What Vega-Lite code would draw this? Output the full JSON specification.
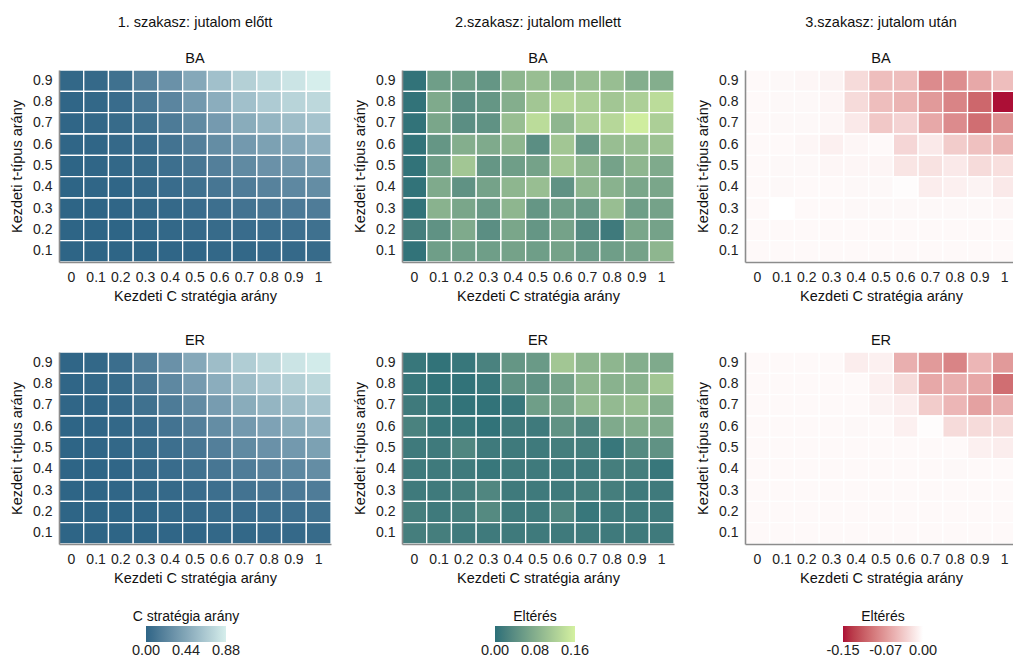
{
  "$schema": "https://vega.github.io/schema/vega-lite/v6.json",
  "background": "white",
  "padding": {"left": 9, "top": 15, "right": 0, "bottom": 0},
  "config": {
    "view": {"stroke": null},
    "font": "Liberation Sans",
    "axis": {"domain": true, "domainColor": "#8c8c8c", "domainWidth": 1.6, "ticks": false, "grid": false, "labelFont": "Liberation Sans", "labelFontSize": 14, "labelColor": "#222222", "titleFont": "Liberation Sans", "titleFontSize": 14.5, "titleFontWeight": "normal", "titleColor": "#111111"},
    "axisX": {"labelAngle": 0, "labelPadding": 8, "titlePadding": 5},
    "axisY": {"labelPadding": 7, "titlePadding": 8},
    "title": {"font": "Liberation Sans", "fontSize": 14.5, "fontWeight": "normal", "color": "#111111", "subtitleFont": "Liberation Sans", "subtitleFontSize": 14.5, "subtitleColor": "#111111", "anchor": "middle", "subtitlePadding": 21, "offset": 3},
    "legend": {"titleFont": "Liberation Sans", "titleFontSize": 14, "titleFontWeight": "normal", "titleColor": "#111111", "labelFont": "Liberation Sans", "labelFontSize": 14.5, "labelColor": "#222222", "gradientLength": 80, "gradientThickness": 16, "gradientStrokeWidth": 0, "titleAnchor": "middle", "labelAlign": "center", "labelOverlap": false, "direction": "horizontal", "orient": "none", "titlePadding": 2, "labelOffset": 3}
  },
  "resolve": {"scale": {"color": "independent"}, "legend": {"color": "independent"}},
  "vconcat": [
    {
      "spacing": 20,
      "resolve": {"scale": {"color": "independent"}, "legend": {"color": "independent"}},
      "hconcat": [
        {
          "width": 272, "height": 192,
          "title": {"text": "1. szakasz: jutalom előtt", "subtitle": "BA"},
          "data": {"name": "p1ba"},
          "mark": {"type": "rect", "stroke": "white", "strokeWidth": 1.3},
          "encoding": {
            "x": {"field": "x", "type": "ordinal", "title": "Kezdeti C stratégia arány", "scale": {"domain": ["0","0.1","0.2","0.3","0.4","0.5","0.6","0.7","0.8","0.9","1"], "paddingInner": 0, "paddingOuter": 0}},
            "y": {"field": "y", "type": "ordinal", "title": "Kezdeti t-típus arány", "scale": {"domain": ["0.9","0.8","0.7","0.6","0.5","0.4","0.3","0.2","0.1"], "paddingInner": 0, "paddingOuter": 0}},
            "color": {"field": "v", "type": "quantitative", "scale": {"domain": [0, 0.88], "range": ["#2e6586", "#d6eeec"], "interpolate": "lab"}, "legend": null}
          }
        },
        {
          "width": 272, "height": 192,
          "title": {"text": "2.szakasz: jutalom mellett", "subtitle": "BA"},
          "data": {"name": "p2ba"},
          "mark": {"type": "rect", "stroke": "white", "strokeWidth": 1.3},
          "encoding": {
            "x": {"field": "x", "type": "ordinal", "title": "Kezdeti C stratégia arány", "scale": {"domain": ["0","0.1","0.2","0.3","0.4","0.5","0.6","0.7","0.8","0.9","1"], "paddingInner": 0, "paddingOuter": 0}},
            "y": {"field": "y", "type": "ordinal", "title": "Kezdeti t-típus arány", "scale": {"domain": ["0.9","0.8","0.7","0.6","0.5","0.4","0.3","0.2","0.1"], "paddingInner": 0, "paddingOuter": 0}},
            "color": {"field": "v", "type": "quantitative", "scale": {"domain": [0, 0.16], "range": ["#2b6f78", "#d4f1a0"], "interpolate": "lab"}, "legend": null}
          }
        },
        {
          "width": 272, "height": 192,
          "title": {"text": "3.szakasz: jutalom után", "subtitle": "BA"},
          "data": {"name": "p3ba"},
          "mark": {"type": "rect", "stroke": "white", "strokeWidth": 1.3},
          "encoding": {
            "x": {"field": "x", "type": "ordinal", "title": "Kezdeti C stratégia arány", "scale": {"domain": ["0","0.1","0.2","0.3","0.4","0.5","0.6","0.7","0.8","0.9","1"], "paddingInner": 0, "paddingOuter": 0}},
            "y": {"field": "y", "type": "ordinal", "title": "Kezdeti t-típus arány", "scale": {"domain": ["0.9","0.8","0.7","0.6","0.5","0.4","0.3","0.2","0.1"], "paddingInner": 0, "paddingOuter": 0}},
            "color": {"field": "v", "type": "quantitative", "scale": {"domain": [-0.15, 0], "range": ["#ac0f36", "#ffffff"], "interpolate": "lab"}, "legend": null}
          }
        }
      ]
    },
    {
      "spacing": 20,
      "resolve": {"scale": {"color": "independent"}, "legend": {"color": "independent"}},
      "hconcat": [
        {
          "width": 272, "height": 192,
          "title": {"text": "ER"},
          "data": {"name": "p1er"},
          "mark": {"type": "rect", "stroke": "white", "strokeWidth": 1.3},
          "encoding": {
            "x": {"field": "x", "type": "ordinal", "title": "Kezdeti C stratégia arány", "scale": {"domain": ["0","0.1","0.2","0.3","0.4","0.5","0.6","0.7","0.8","0.9","1"], "paddingInner": 0, "paddingOuter": 0}},
            "y": {"field": "y", "type": "ordinal", "title": "Kezdeti t-típus arány", "scale": {"domain": ["0.9","0.8","0.7","0.6","0.5","0.4","0.3","0.2","0.1"], "paddingInner": 0, "paddingOuter": 0}},
            "color": {"field": "v", "type": "quantitative", "scale": {"domain": [0, 0.88], "range": ["#2e6586", "#d6eeec"], "interpolate": "lab"}, "legend": {"title": "C stratégia arány", "values": [0, 0.44, 0.88], "format": ".2f", "legendX": 74, "legendY": 258, "encode": {"labels": {"update": {"align": {"value": "center"}}}}}}
          }
        },
        {
          "width": 272, "height": 192,
          "title": {"text": "ER"},
          "data": {"name": "p2er"},
          "mark": {"type": "rect", "stroke": "white", "strokeWidth": 1.3},
          "encoding": {
            "x": {"field": "x", "type": "ordinal", "title": "Kezdeti C stratégia arány", "scale": {"domain": ["0","0.1","0.2","0.3","0.4","0.5","0.6","0.7","0.8","0.9","1"], "paddingInner": 0, "paddingOuter": 0}},
            "y": {"field": "y", "type": "ordinal", "title": "Kezdeti t-típus arány", "scale": {"domain": ["0.9","0.8","0.7","0.6","0.5","0.4","0.3","0.2","0.1"], "paddingInner": 0, "paddingOuter": 0}},
            "color": {"field": "v", "type": "quantitative", "scale": {"domain": [0, 0.16], "range": ["#2b6f78", "#d4f1a0"], "interpolate": "lab"}, "legend": {"title": "Eltérés", "values": [0, 0.08, 0.16], "format": ".2f", "legendX": 93, "legendY": 258, "encode": {"labels": {"update": {"align": {"value": "center"}}}}}}
          }
        },
        {
          "width": 272, "height": 192,
          "title": {"text": "ER"},
          "data": {"name": "p3er"},
          "mark": {"type": "rect", "stroke": "white", "strokeWidth": 1.3},
          "encoding": {
            "x": {"field": "x", "type": "ordinal", "title": "Kezdeti C stratégia arány", "scale": {"domain": ["0","0.1","0.2","0.3","0.4","0.5","0.6","0.7","0.8","0.9","1"], "paddingInner": 0, "paddingOuter": 0}},
            "y": {"field": "y", "type": "ordinal", "title": "Kezdeti t-típus arány", "scale": {"domain": ["0.9","0.8","0.7","0.6","0.5","0.4","0.3","0.2","0.1"], "paddingInner": 0, "paddingOuter": 0}},
            "color": {"field": "v", "type": "quantitative", "scale": {"domain": [-0.15, 0], "range": ["#ac0f36", "#ffffff"], "interpolate": "lab"}, "legend": {"title": "Eltérés", "values": [-0.15, -0.07, 0], "labelExpr": "replace(format(datum.value, '.2f'), '\u2212', '-')", "legendX": 98, "legendY": 258, "encode": {"labels": {"update": {"align": {"value": "center"}}}}}}
          }
        }
      ]
    }
  ],
  "spacing": 29,
  "datasets": {
    "p1ba": [
      {"x":"0","y":"0.9","v":0.02},{"x":"0.1","y":"0.9","v":0.03},{"x":"0.2","y":"0.9","v":0.08},{"x":"0.3","y":"0.9","v":0.2},{"x":"0.4","y":"0.9","v":0.3},{"x":"0.5","y":"0.9","v":0.45},{"x":"0.6","y":"0.9","v":0.6},{"x":"0.7","y":"0.9","v":0.7},{"x":"0.8","y":"0.9","v":0.76},{"x":"0.9","y":"0.9","v":0.82},{"x":"1","y":"0.9","v":0.88},
      {"x":"0","y":"0.8","v":0.01},{"x":"0.1","y":"0.8","v":0.02},{"x":"0.2","y":"0.8","v":0.05},{"x":"0.3","y":"0.8","v":0.13},{"x":"0.4","y":"0.8","v":0.22},{"x":"0.5","y":"0.8","v":0.35},{"x":"0.6","y":"0.8","v":0.48},{"x":"0.7","y":"0.8","v":0.6},{"x":"0.8","y":"0.8","v":0.67},{"x":"0.9","y":"0.8","v":0.72},{"x":"1","y":"0.8","v":0.75},
      {"x":"0","y":"0.7","v":0.01},{"x":"0.1","y":"0.7","v":0.02},{"x":"0.2","y":"0.7","v":0.04},{"x":"0.3","y":"0.7","v":0.08},{"x":"0.4","y":"0.7","v":0.15},{"x":"0.5","y":"0.7","v":0.25},{"x":"0.6","y":"0.7","v":0.36},{"x":"0.7","y":"0.7","v":0.47},{"x":"0.8","y":"0.7","v":0.53},{"x":"0.9","y":"0.7","v":0.58},{"x":"1","y":"0.7","v":0.62},
      {"x":"0","y":"0.6","v":0.01},{"x":"0.1","y":"0.6","v":0.01},{"x":"0.2","y":"0.6","v":0.03},{"x":"0.3","y":"0.6","v":0.05},{"x":"0.4","y":"0.6","v":0.1},{"x":"0.5","y":"0.6","v":0.18},{"x":"0.6","y":"0.6","v":0.27},{"x":"0.7","y":"0.6","v":0.35},{"x":"0.8","y":"0.6","v":0.4},{"x":"0.9","y":"0.6","v":0.45},{"x":"1","y":"0.6","v":0.5},
      {"x":"0","y":"0.5","v":0.0},{"x":"0.1","y":"0.5","v":0.01},{"x":"0.2","y":"0.5","v":0.02},{"x":"0.3","y":"0.5","v":0.04},{"x":"0.4","y":"0.5","v":0.07},{"x":"0.5","y":"0.5","v":0.12},{"x":"0.6","y":"0.5","v":0.18},{"x":"0.7","y":"0.5","v":0.25},{"x":"0.8","y":"0.5","v":0.3},{"x":"0.9","y":"0.5","v":0.34},{"x":"1","y":"0.5","v":0.38},
      {"x":"0","y":"0.4","v":0.0},{"x":"0.1","y":"0.4","v":0.01},{"x":"0.2","y":"0.4","v":0.01},{"x":"0.3","y":"0.4","v":0.03},{"x":"0.4","y":"0.4","v":0.05},{"x":"0.5","y":"0.4","v":0.08},{"x":"0.6","y":"0.4","v":0.12},{"x":"0.7","y":"0.4","v":0.16},{"x":"0.8","y":"0.4","v":0.2},{"x":"0.9","y":"0.4","v":0.24},{"x":"1","y":"0.4","v":0.27},
      {"x":"0","y":"0.3","v":0.0},{"x":"0.1","y":"0.3","v":0.0},{"x":"0.2","y":"0.3","v":0.01},{"x":"0.3","y":"0.3","v":0.02},{"x":"0.4","y":"0.3","v":0.03},{"x":"0.5","y":"0.3","v":0.05},{"x":"0.6","y":"0.3","v":0.07},{"x":"0.7","y":"0.3","v":0.1},{"x":"0.8","y":"0.3","v":0.12},{"x":"0.9","y":"0.3","v":0.14},{"x":"1","y":"0.3","v":0.16},
      {"x":"0","y":"0.2","v":0.0},{"x":"0.1","y":"0.2","v":0.0},{"x":"0.2","y":"0.2","v":0.0},{"x":"0.3","y":"0.2","v":0.01},{"x":"0.4","y":"0.2","v":0.02},{"x":"0.5","y":"0.2","v":0.03},{"x":"0.6","y":"0.2","v":0.04},{"x":"0.7","y":"0.2","v":0.05},{"x":"0.8","y":"0.2","v":0.06},{"x":"0.9","y":"0.2","v":0.07},{"x":"1","y":"0.2","v":0.08},
      {"x":"0","y":"0.1","v":0.0},{"x":"0.1","y":"0.1","v":0.0},{"x":"0.2","y":"0.1","v":0.0},{"x":"0.3","y":"0.1","v":0.0},{"x":"0.4","y":"0.1","v":0.01},{"x":"0.5","y":"0.1","v":0.01},{"x":"0.6","y":"0.1","v":0.02},{"x":"0.7","y":"0.1","v":0.02},{"x":"0.8","y":"0.1","v":0.03},{"x":"0.9","y":"0.1","v":0.03},{"x":"1","y":"0.1","v":0.04}
    ],
    "p1er": [
      {"x":"0","y":"0.9","v":0.01},{"x":"0.1","y":"0.9","v":0.02},{"x":"0.2","y":"0.9","v":0.06},{"x":"0.3","y":"0.9","v":0.17},{"x":"0.4","y":"0.9","v":0.3},{"x":"0.5","y":"0.9","v":0.45},{"x":"0.6","y":"0.9","v":0.58},{"x":"0.7","y":"0.9","v":0.68},{"x":"0.8","y":"0.9","v":0.75},{"x":"0.9","y":"0.9","v":0.82},{"x":"1","y":"0.9","v":0.86},
      {"x":"0","y":"0.8","v":0.01},{"x":"0.1","y":"0.8","v":0.02},{"x":"0.2","y":"0.8","v":0.04},{"x":"0.3","y":"0.8","v":0.12},{"x":"0.4","y":"0.8","v":0.24},{"x":"0.5","y":"0.8","v":0.36},{"x":"0.6","y":"0.8","v":0.48},{"x":"0.7","y":"0.8","v":0.58},{"x":"0.8","y":"0.8","v":0.65},{"x":"0.9","y":"0.8","v":0.7},{"x":"1","y":"0.8","v":0.74},
      {"x":"0","y":"0.7","v":0.01},{"x":"0.1","y":"0.7","v":0.01},{"x":"0.2","y":"0.7","v":0.03},{"x":"0.3","y":"0.7","v":0.08},{"x":"0.4","y":"0.7","v":0.15},{"x":"0.5","y":"0.7","v":0.26},{"x":"0.6","y":"0.7","v":0.37},{"x":"0.7","y":"0.7","v":0.47},{"x":"0.8","y":"0.7","v":0.53},{"x":"0.9","y":"0.7","v":0.58},{"x":"1","y":"0.7","v":0.62},
      {"x":"0","y":"0.6","v":0.0},{"x":"0.1","y":"0.6","v":0.01},{"x":"0.2","y":"0.6","v":0.02},{"x":"0.3","y":"0.6","v":0.05},{"x":"0.4","y":"0.6","v":0.1},{"x":"0.5","y":"0.6","v":0.18},{"x":"0.6","y":"0.6","v":0.27},{"x":"0.7","y":"0.6","v":0.35},{"x":"0.8","y":"0.6","v":0.41},{"x":"0.9","y":"0.6","v":0.47},{"x":"1","y":"0.6","v":0.52},
      {"x":"0","y":"0.5","v":0.0},{"x":"0.1","y":"0.5","v":0.01},{"x":"0.2","y":"0.5","v":0.02},{"x":"0.3","y":"0.5","v":0.04},{"x":"0.4","y":"0.5","v":0.07},{"x":"0.5","y":"0.5","v":0.12},{"x":"0.6","y":"0.5","v":0.18},{"x":"0.7","y":"0.5","v":0.25},{"x":"0.8","y":"0.5","v":0.3},{"x":"0.9","y":"0.5","v":0.35},{"x":"1","y":"0.5","v":0.4},
      {"x":"0","y":"0.4","v":0.0},{"x":"0.1","y":"0.4","v":0.0},{"x":"0.2","y":"0.4","v":0.01},{"x":"0.3","y":"0.4","v":0.03},{"x":"0.4","y":"0.4","v":0.05},{"x":"0.5","y":"0.4","v":0.08},{"x":"0.6","y":"0.4","v":0.12},{"x":"0.7","y":"0.4","v":0.16},{"x":"0.8","y":"0.4","v":0.2},{"x":"0.9","y":"0.4","v":0.23},{"x":"1","y":"0.4","v":0.27},
      {"x":"0","y":"0.3","v":0.0},{"x":"0.1","y":"0.3","v":0.0},{"x":"0.2","y":"0.3","v":0.01},{"x":"0.3","y":"0.3","v":0.02},{"x":"0.4","y":"0.3","v":0.03},{"x":"0.5","y":"0.3","v":0.05},{"x":"0.6","y":"0.3","v":0.07},{"x":"0.7","y":"0.3","v":0.1},{"x":"0.8","y":"0.3","v":0.12},{"x":"0.9","y":"0.3","v":0.14},{"x":"1","y":"0.3","v":0.16},
      {"x":"0","y":"0.2","v":0.0},{"x":"0.1","y":"0.2","v":0.0},{"x":"0.2","y":"0.2","v":0.0},{"x":"0.3","y":"0.2","v":0.01},{"x":"0.4","y":"0.2","v":0.02},{"x":"0.5","y":"0.2","v":0.03},{"x":"0.6","y":"0.2","v":0.04},{"x":"0.7","y":"0.2","v":0.05},{"x":"0.8","y":"0.2","v":0.06},{"x":"0.9","y":"0.2","v":0.07},{"x":"1","y":"0.2","v":0.08},
      {"x":"0","y":"0.1","v":0.0},{"x":"0.1","y":"0.1","v":0.0},{"x":"0.2","y":"0.1","v":0.0},{"x":"0.3","y":"0.1","v":0.0},{"x":"0.4","y":"0.1","v":0.01},{"x":"0.5","y":"0.1","v":0.01},{"x":"0.6","y":"0.1","v":0.02},{"x":"0.7","y":"0.1","v":0.02},{"x":"0.8","y":"0.1","v":0.03},{"x":"0.9","y":"0.1","v":0.03},{"x":"1","y":"0.1","v":0.04}
    ],
    "p2ba": [
      {"x":"0","y":"0.9","v":0.005},{"x":"0.1","y":"0.9","v":0.06},{"x":"0.2","y":"0.9","v":0.06},{"x":"0.3","y":"0.9","v":0.05},{"x":"0.4","y":"0.9","v":0.09},{"x":"0.5","y":"0.9","v":0.1},{"x":"0.6","y":"0.9","v":0.09},{"x":"0.7","y":"0.9","v":0.1},{"x":"0.8","y":"0.9","v":0.1},{"x":"0.9","y":"0.9","v":0.08},{"x":"1","y":"0.9","v":0.08},
      {"x":"0","y":"0.8","v":0.005},{"x":"0.1","y":"0.8","v":0.075},{"x":"0.2","y":"0.8","v":0.04},{"x":"0.3","y":"0.8","v":0.05},{"x":"0.4","y":"0.8","v":0.08},{"x":"0.5","y":"0.8","v":0.11},{"x":"0.6","y":"0.8","v":0.13},{"x":"0.7","y":"0.8","v":0.12},{"x":"0.8","y":"0.8","v":0.11},{"x":"0.9","y":"0.8","v":0.12},{"x":"1","y":"0.8","v":0.135},
      {"x":"0","y":"0.7","v":0.005},{"x":"0.1","y":"0.7","v":0.07},{"x":"0.2","y":"0.7","v":0.04},{"x":"0.3","y":"0.7","v":0.045},{"x":"0.4","y":"0.7","v":0.1},{"x":"0.5","y":"0.7","v":0.135},{"x":"0.6","y":"0.7","v":0.09},{"x":"0.7","y":"0.7","v":0.12},{"x":"0.8","y":"0.7","v":0.13},{"x":"0.9","y":"0.7","v":0.155},{"x":"1","y":"0.7","v":0.12},
      {"x":"0","y":"0.6","v":0.005},{"x":"0.1","y":"0.6","v":0.05},{"x":"0.2","y":"0.6","v":0.08},{"x":"0.3","y":"0.6","v":0.075},{"x":"0.4","y":"0.6","v":0.09},{"x":"0.5","y":"0.6","v":0.04},{"x":"0.6","y":"0.6","v":0.11},{"x":"0.7","y":"0.6","v":0.055},{"x":"0.8","y":"0.6","v":0.1},{"x":"0.9","y":"0.6","v":0.1},{"x":"1","y":"0.6","v":0.105},
      {"x":"0","y":"0.5","v":0.005},{"x":"0.1","y":"0.5","v":0.06},{"x":"0.2","y":"0.5","v":0.11},{"x":"0.3","y":"0.5","v":0.05},{"x":"0.4","y":"0.5","v":0.06},{"x":"0.5","y":"0.5","v":0.065},{"x":"0.6","y":"0.5","v":0.11},{"x":"0.7","y":"0.5","v":0.09},{"x":"0.8","y":"0.5","v":0.065},{"x":"0.9","y":"0.5","v":0.09},{"x":"1","y":"0.5","v":0.075},
      {"x":"0","y":"0.4","v":0.005},{"x":"0.1","y":"0.4","v":0.075},{"x":"0.2","y":"0.4","v":0.045},{"x":"0.3","y":"0.4","v":0.065},{"x":"0.4","y":"0.4","v":0.09},{"x":"0.5","y":"0.4","v":0.1},{"x":"0.6","y":"0.4","v":0.045},{"x":"0.7","y":"0.4","v":0.09},{"x":"0.8","y":"0.4","v":0.085},{"x":"0.9","y":"0.4","v":0.07},{"x":"1","y":"0.4","v":0.07},
      {"x":"0","y":"0.3","v":0.005},{"x":"0.1","y":"0.3","v":0.085},{"x":"0.2","y":"0.3","v":0.07},{"x":"0.3","y":"0.3","v":0.055},{"x":"0.4","y":"0.3","v":0.09},{"x":"0.5","y":"0.3","v":0.05},{"x":"0.6","y":"0.3","v":0.06},{"x":"0.7","y":"0.3","v":0.055},{"x":"0.8","y":"0.3","v":0.1},{"x":"0.9","y":"0.3","v":0.06},{"x":"1","y":"0.3","v":0.065},
      {"x":"0","y":"0.2","v":0.02},{"x":"0.1","y":"0.2","v":0.045},{"x":"0.2","y":"0.2","v":0.075},{"x":"0.3","y":"0.2","v":0.04},{"x":"0.4","y":"0.2","v":0.07},{"x":"0.5","y":"0.2","v":0.05},{"x":"0.6","y":"0.2","v":0.065},{"x":"0.7","y":"0.2","v":0.035},{"x":"0.8","y":"0.2","v":0.015},{"x":"0.9","y":"0.2","v":0.07},{"x":"1","y":"0.2","v":0.065},
      {"x":"0","y":"0.1","v":0.005},{"x":"0.1","y":"0.1","v":0.06},{"x":"0.2","y":"0.1","v":0.06},{"x":"0.3","y":"0.1","v":0.06},{"x":"0.4","y":"0.1","v":0.065},{"x":"0.5","y":"0.1","v":0.06},{"x":"0.6","y":"0.1","v":0.065},{"x":"0.7","y":"0.1","v":0.055},{"x":"0.8","y":"0.1","v":0.06},{"x":"0.9","y":"0.1","v":0.065},{"x":"1","y":"0.1","v":0.09}
    ],
    "p2er": [
      {"x":"0","y":"0.9","v":0.01},{"x":"0.1","y":"0.9","v":0.005},{"x":"0.2","y":"0.9","v":0.01},{"x":"0.3","y":"0.9","v":0.025},{"x":"0.4","y":"0.9","v":0.05},{"x":"0.5","y":"0.9","v":0.055},{"x":"0.6","y":"0.9","v":0.11},{"x":"0.7","y":"0.9","v":0.09},{"x":"0.8","y":"0.9","v":0.09},{"x":"0.9","y":"0.9","v":0.08},{"x":"1","y":"0.9","v":0.075},
      {"x":"0","y":"0.8","v":0.01},{"x":"0.1","y":"0.8","v":0.005},{"x":"0.2","y":"0.8","v":0.005},{"x":"0.3","y":"0.8","v":0.01},{"x":"0.4","y":"0.8","v":0.045},{"x":"0.5","y":"0.8","v":0.045},{"x":"0.6","y":"0.8","v":0.065},{"x":"0.7","y":"0.8","v":0.09},{"x":"0.8","y":"0.8","v":0.085},{"x":"0.9","y":"0.8","v":0.085},{"x":"1","y":"0.8","v":0.11},
      {"x":"0","y":"0.7","v":0.015},{"x":"0.1","y":"0.7","v":0.01},{"x":"0.2","y":"0.7","v":0.005},{"x":"0.3","y":"0.7","v":0.005},{"x":"0.4","y":"0.7","v":0.01},{"x":"0.5","y":"0.7","v":0.06},{"x":"0.6","y":"0.7","v":0.065},{"x":"0.7","y":"0.7","v":0.095},{"x":"0.8","y":"0.7","v":0.095},{"x":"0.9","y":"0.7","v":0.1},{"x":"1","y":"0.7","v":0.08},
      {"x":"0","y":"0.6","v":0.025},{"x":"0.1","y":"0.6","v":0.01},{"x":"0.2","y":"0.6","v":0.01},{"x":"0.3","y":"0.6","v":0.005},{"x":"0.4","y":"0.6","v":0.015},{"x":"0.5","y":"0.6","v":0.015},{"x":"0.6","y":"0.6","v":0.045},{"x":"0.7","y":"0.6","v":0.03},{"x":"0.8","y":"0.6","v":0.075},{"x":"0.9","y":"0.6","v":0.08},{"x":"1","y":"0.6","v":0.075},
      {"x":"0","y":"0.5","v":0.015},{"x":"0.1","y":"0.5","v":0.015},{"x":"0.2","y":"0.5","v":0.03},{"x":"0.3","y":"0.5","v":0.015},{"x":"0.4","y":"0.5","v":0.015},{"x":"0.5","y":"0.5","v":0.015},{"x":"0.6","y":"0.5","v":0.02},{"x":"0.7","y":"0.5","v":0.02},{"x":"0.8","y":"0.5","v":0.01},{"x":"0.9","y":"0.5","v":0.035},{"x":"1","y":"0.5","v":0.045},
      {"x":"0","y":"0.4","v":0.015},{"x":"0.1","y":"0.4","v":0.015},{"x":"0.2","y":"0.4","v":0.015},{"x":"0.3","y":"0.4","v":0.01},{"x":"0.4","y":"0.4","v":0.015},{"x":"0.5","y":"0.4","v":0.015},{"x":"0.6","y":"0.4","v":0.015},{"x":"0.7","y":"0.4","v":0.015},{"x":"0.8","y":"0.4","v":0.02},{"x":"0.9","y":"0.4","v":0.02},{"x":"1","y":"0.4","v":0.01},
      {"x":"0","y":"0.3","v":0.015},{"x":"0.1","y":"0.3","v":0.015},{"x":"0.2","y":"0.3","v":0.02},{"x":"0.3","y":"0.3","v":0.03},{"x":"0.4","y":"0.3","v":0.015},{"x":"0.5","y":"0.3","v":0.015},{"x":"0.6","y":"0.3","v":0.015},{"x":"0.7","y":"0.3","v":0.02},{"x":"0.8","y":"0.3","v":0.02},{"x":"0.9","y":"0.3","v":0.015},{"x":"1","y":"0.3","v":0.015},
      {"x":"0","y":"0.2","v":0.02},{"x":"0.1","y":"0.2","v":0.015},{"x":"0.2","y":"0.2","v":0.02},{"x":"0.3","y":"0.2","v":0.035},{"x":"0.4","y":"0.2","v":0.015},{"x":"0.5","y":"0.2","v":0.015},{"x":"0.6","y":"0.2","v":0.03},{"x":"0.7","y":"0.2","v":0.01},{"x":"0.8","y":"0.2","v":0.015},{"x":"0.9","y":"0.2","v":0.015},{"x":"1","y":"0.2","v":0.015},
      {"x":"0","y":"0.1","v":0.02},{"x":"0.1","y":"0.1","v":0.02},{"x":"0.2","y":"0.1","v":0.015},{"x":"0.3","y":"0.1","v":0.015},{"x":"0.4","y":"0.1","v":0.015},{"x":"0.5","y":"0.1","v":0.015},{"x":"0.6","y":"0.1","v":0.015},{"x":"0.7","y":"0.1","v":0.015},{"x":"0.8","y":"0.1","v":0.015},{"x":"0.9","y":"0.1","v":0.015},{"x":"1","y":"0.1","v":0.015}
    ],
    "p3ba": [
      {"x":"0","y":"0.9","v":-0.004},{"x":"0.1","y":"0.9","v":-0.005},{"x":"0.2","y":"0.9","v":-0.006},{"x":"0.3","y":"0.9","v":-0.008},{"x":"0.4","y":"0.9","v":-0.025},{"x":"0.5","y":"0.9","v":-0.045},{"x":"0.6","y":"0.9","v":-0.045},{"x":"0.7","y":"0.9","v":-0.08},{"x":"0.8","y":"0.9","v":-0.078},{"x":"0.9","y":"0.9","v":-0.06},{"x":"1","y":"0.9","v":-0.045},
      {"x":"0","y":"0.8","v":-0.004},{"x":"0.1","y":"0.8","v":-0.005},{"x":"0.2","y":"0.8","v":-0.005},{"x":"0.3","y":"0.8","v":-0.007},{"x":"0.4","y":"0.8","v":-0.025},{"x":"0.5","y":"0.8","v":-0.045},{"x":"0.6","y":"0.8","v":-0.052},{"x":"0.7","y":"0.8","v":-0.07},{"x":"0.8","y":"0.8","v":-0.085},{"x":"0.9","y":"0.8","v":-0.105},{"x":"1","y":"0.8","v":-0.15},
      {"x":"0","y":"0.7","v":-0.004},{"x":"0.1","y":"0.7","v":-0.005},{"x":"0.2","y":"0.7","v":-0.005},{"x":"0.3","y":"0.7","v":-0.006},{"x":"0.4","y":"0.7","v":-0.015},{"x":"0.5","y":"0.7","v":-0.038},{"x":"0.6","y":"0.7","v":-0.03},{"x":"0.7","y":"0.7","v":-0.06},{"x":"0.8","y":"0.7","v":-0.08},{"x":"0.9","y":"0.7","v":-0.1},{"x":"1","y":"0.7","v":-0.077},
      {"x":"0","y":"0.6","v":-0.004},{"x":"0.1","y":"0.6","v":-0.004},{"x":"0.2","y":"0.6","v":-0.006},{"x":"0.3","y":"0.6","v":-0.01},{"x":"0.4","y":"0.6","v":-0.006},{"x":"0.5","y":"0.6","v":-0.004},{"x":"0.6","y":"0.6","v":-0.028},{"x":"0.7","y":"0.6","v":-0.015},{"x":"0.8","y":"0.6","v":-0.035},{"x":"0.9","y":"0.6","v":-0.043},{"x":"1","y":"0.6","v":-0.052},
      {"x":"0","y":"0.5","v":-0.004},{"x":"0.1","y":"0.5","v":-0.005},{"x":"0.2","y":"0.5","v":-0.005},{"x":"0.3","y":"0.5","v":-0.006},{"x":"0.4","y":"0.5","v":-0.006},{"x":"0.5","y":"0.5","v":-0.007},{"x":"0.6","y":"0.5","v":-0.018},{"x":"0.7","y":"0.5","v":-0.02},{"x":"0.8","y":"0.5","v":-0.015},{"x":"0.9","y":"0.5","v":-0.025},{"x":"1","y":"0.5","v":-0.022},
      {"x":"0","y":"0.4","v":-0.004},{"x":"0.1","y":"0.4","v":-0.005},{"x":"0.2","y":"0.4","v":-0.004},{"x":"0.3","y":"0.4","v":-0.004},{"x":"0.4","y":"0.4","v":-0.005},{"x":"0.5","y":"0.4","v":-0.005},{"x":"0.6","y":"0.4","v":-0.002},{"x":"0.7","y":"0.4","v":-0.012},{"x":"0.8","y":"0.4","v":-0.01},{"x":"0.9","y":"0.4","v":-0.008},{"x":"1","y":"0.4","v":-0.015},
      {"x":"0","y":"0.3","v":-0.004},{"x":"0.1","y":"0.3","v":0.0},{"x":"0.2","y":"0.3","v":-0.004},{"x":"0.3","y":"0.3","v":-0.004},{"x":"0.4","y":"0.3","v":-0.005},{"x":"0.5","y":"0.3","v":-0.005},{"x":"0.6","y":"0.3","v":-0.005},{"x":"0.7","y":"0.3","v":-0.005},{"x":"0.8","y":"0.3","v":-0.005},{"x":"0.9","y":"0.3","v":-0.005},{"x":"1","y":"0.3","v":-0.006},
      {"x":"0","y":"0.2","v":-0.004},{"x":"0.1","y":"0.2","v":-0.004},{"x":"0.2","y":"0.2","v":-0.004},{"x":"0.3","y":"0.2","v":-0.004},{"x":"0.4","y":"0.2","v":-0.004},{"x":"0.5","y":"0.2","v":-0.004},{"x":"0.6","y":"0.2","v":-0.004},{"x":"0.7","y":"0.2","v":-0.004},{"x":"0.8","y":"0.2","v":-0.004},{"x":"0.9","y":"0.2","v":-0.004},{"x":"1","y":"0.2","v":-0.004},
      {"x":"0","y":"0.1","v":-0.004},{"x":"0.1","y":"0.1","v":-0.004},{"x":"0.2","y":"0.1","v":-0.004},{"x":"0.3","y":"0.1","v":-0.004},{"x":"0.4","y":"0.1","v":-0.004},{"x":"0.5","y":"0.1","v":-0.004},{"x":"0.6","y":"0.1","v":-0.004},{"x":"0.7","y":"0.1","v":-0.004},{"x":"0.8","y":"0.1","v":-0.004},{"x":"0.9","y":"0.1","v":-0.004},{"x":"1","y":"0.1","v":-0.004}
    ],
    "p3er": [
      {"x":"0","y":"0.9","v":-0.004},{"x":"0.1","y":"0.9","v":-0.004},{"x":"0.2","y":"0.9","v":-0.004},{"x":"0.3","y":"0.9","v":-0.004},{"x":"0.4","y":"0.9","v":-0.012},{"x":"0.5","y":"0.9","v":-0.01},{"x":"0.6","y":"0.9","v":-0.055},{"x":"0.7","y":"0.9","v":-0.07},{"x":"0.8","y":"0.9","v":-0.085},{"x":"0.9","y":"0.9","v":-0.05},{"x":"1","y":"0.9","v":-0.07},
      {"x":"0","y":"0.8","v":-0.004},{"x":"0.1","y":"0.8","v":-0.004},{"x":"0.2","y":"0.8","v":-0.004},{"x":"0.3","y":"0.8","v":-0.004},{"x":"0.4","y":"0.8","v":-0.004},{"x":"0.5","y":"0.8","v":-0.01},{"x":"0.6","y":"0.8","v":-0.025},{"x":"0.7","y":"0.8","v":-0.06},{"x":"0.8","y":"0.8","v":-0.055},{"x":"0.9","y":"0.8","v":-0.06},{"x":"1","y":"0.8","v":-0.1},
      {"x":"0","y":"0.7","v":-0.004},{"x":"0.1","y":"0.7","v":-0.004},{"x":"0.2","y":"0.7","v":-0.004},{"x":"0.3","y":"0.7","v":-0.004},{"x":"0.4","y":"0.7","v":-0.004},{"x":"0.5","y":"0.7","v":-0.008},{"x":"0.6","y":"0.7","v":-0.012},{"x":"0.7","y":"0.7","v":-0.035},{"x":"0.8","y":"0.7","v":-0.05},{"x":"0.9","y":"0.7","v":-0.065},{"x":"1","y":"0.7","v":-0.055},
      {"x":"0","y":"0.6","v":-0.004},{"x":"0.1","y":"0.6","v":-0.004},{"x":"0.2","y":"0.6","v":-0.004},{"x":"0.3","y":"0.6","v":-0.004},{"x":"0.4","y":"0.6","v":-0.005},{"x":"0.5","y":"0.6","v":-0.004},{"x":"0.6","y":"0.6","v":-0.01},{"x":"0.7","y":"0.6","v":-0.002},{"x":"0.8","y":"0.6","v":-0.025},{"x":"0.9","y":"0.6","v":-0.025},{"x":"1","y":"0.6","v":-0.025},
      {"x":"0","y":"0.5","v":-0.004},{"x":"0.1","y":"0.5","v":-0.004},{"x":"0.2","y":"0.5","v":-0.004},{"x":"0.3","y":"0.5","v":-0.004},{"x":"0.4","y":"0.5","v":-0.004},{"x":"0.5","y":"0.5","v":-0.004},{"x":"0.6","y":"0.5","v":-0.004},{"x":"0.7","y":"0.5","v":-0.004},{"x":"0.8","y":"0.5","v":-0.004},{"x":"0.9","y":"0.5","v":-0.01},{"x":"1","y":"0.5","v":-0.012},
      {"x":"0","y":"0.4","v":-0.004},{"x":"0.1","y":"0.4","v":-0.004},{"x":"0.2","y":"0.4","v":-0.004},{"x":"0.3","y":"0.4","v":-0.004},{"x":"0.4","y":"0.4","v":-0.004},{"x":"0.5","y":"0.4","v":-0.004},{"x":"0.6","y":"0.4","v":-0.004},{"x":"0.7","y":"0.4","v":-0.004},{"x":"0.8","y":"0.4","v":-0.005},{"x":"0.9","y":"0.4","v":-0.004},{"x":"1","y":"0.4","v":-0.004},
      {"x":"0","y":"0.3","v":-0.004},{"x":"0.1","y":"0.3","v":-0.004},{"x":"0.2","y":"0.3","v":-0.004},{"x":"0.3","y":"0.3","v":-0.004},{"x":"0.4","y":"0.3","v":-0.004},{"x":"0.5","y":"0.3","v":-0.004},{"x":"0.6","y":"0.3","v":-0.004},{"x":"0.7","y":"0.3","v":-0.004},{"x":"0.8","y":"0.3","v":-0.004},{"x":"0.9","y":"0.3","v":-0.004},{"x":"1","y":"0.3","v":-0.004},
      {"x":"0","y":"0.2","v":-0.004},{"x":"0.1","y":"0.2","v":-0.004},{"x":"0.2","y":"0.2","v":-0.004},{"x":"0.3","y":"0.2","v":-0.004},{"x":"0.4","y":"0.2","v":-0.004},{"x":"0.5","y":"0.2","v":-0.004},{"x":"0.6","y":"0.2","v":-0.004},{"x":"0.7","y":"0.2","v":-0.004},{"x":"0.8","y":"0.2","v":-0.004},{"x":"0.9","y":"0.2","v":-0.004},{"x":"1","y":"0.2","v":-0.004},
      {"x":"0","y":"0.1","v":-0.004},{"x":"0.1","y":"0.1","v":-0.004},{"x":"0.2","y":"0.1","v":-0.004},{"x":"0.3","y":"0.1","v":-0.004},{"x":"0.4","y":"0.1","v":-0.004},{"x":"0.5","y":"0.1","v":-0.004},{"x":"0.6","y":"0.1","v":-0.004},{"x":"0.7","y":"0.1","v":-0.004},{"x":"0.8","y":"0.1","v":-0.004},{"x":"0.9","y":"0.1","v":-0.004},{"x":"1","y":"0.1","v":-0.004}
    ]
  }
}
